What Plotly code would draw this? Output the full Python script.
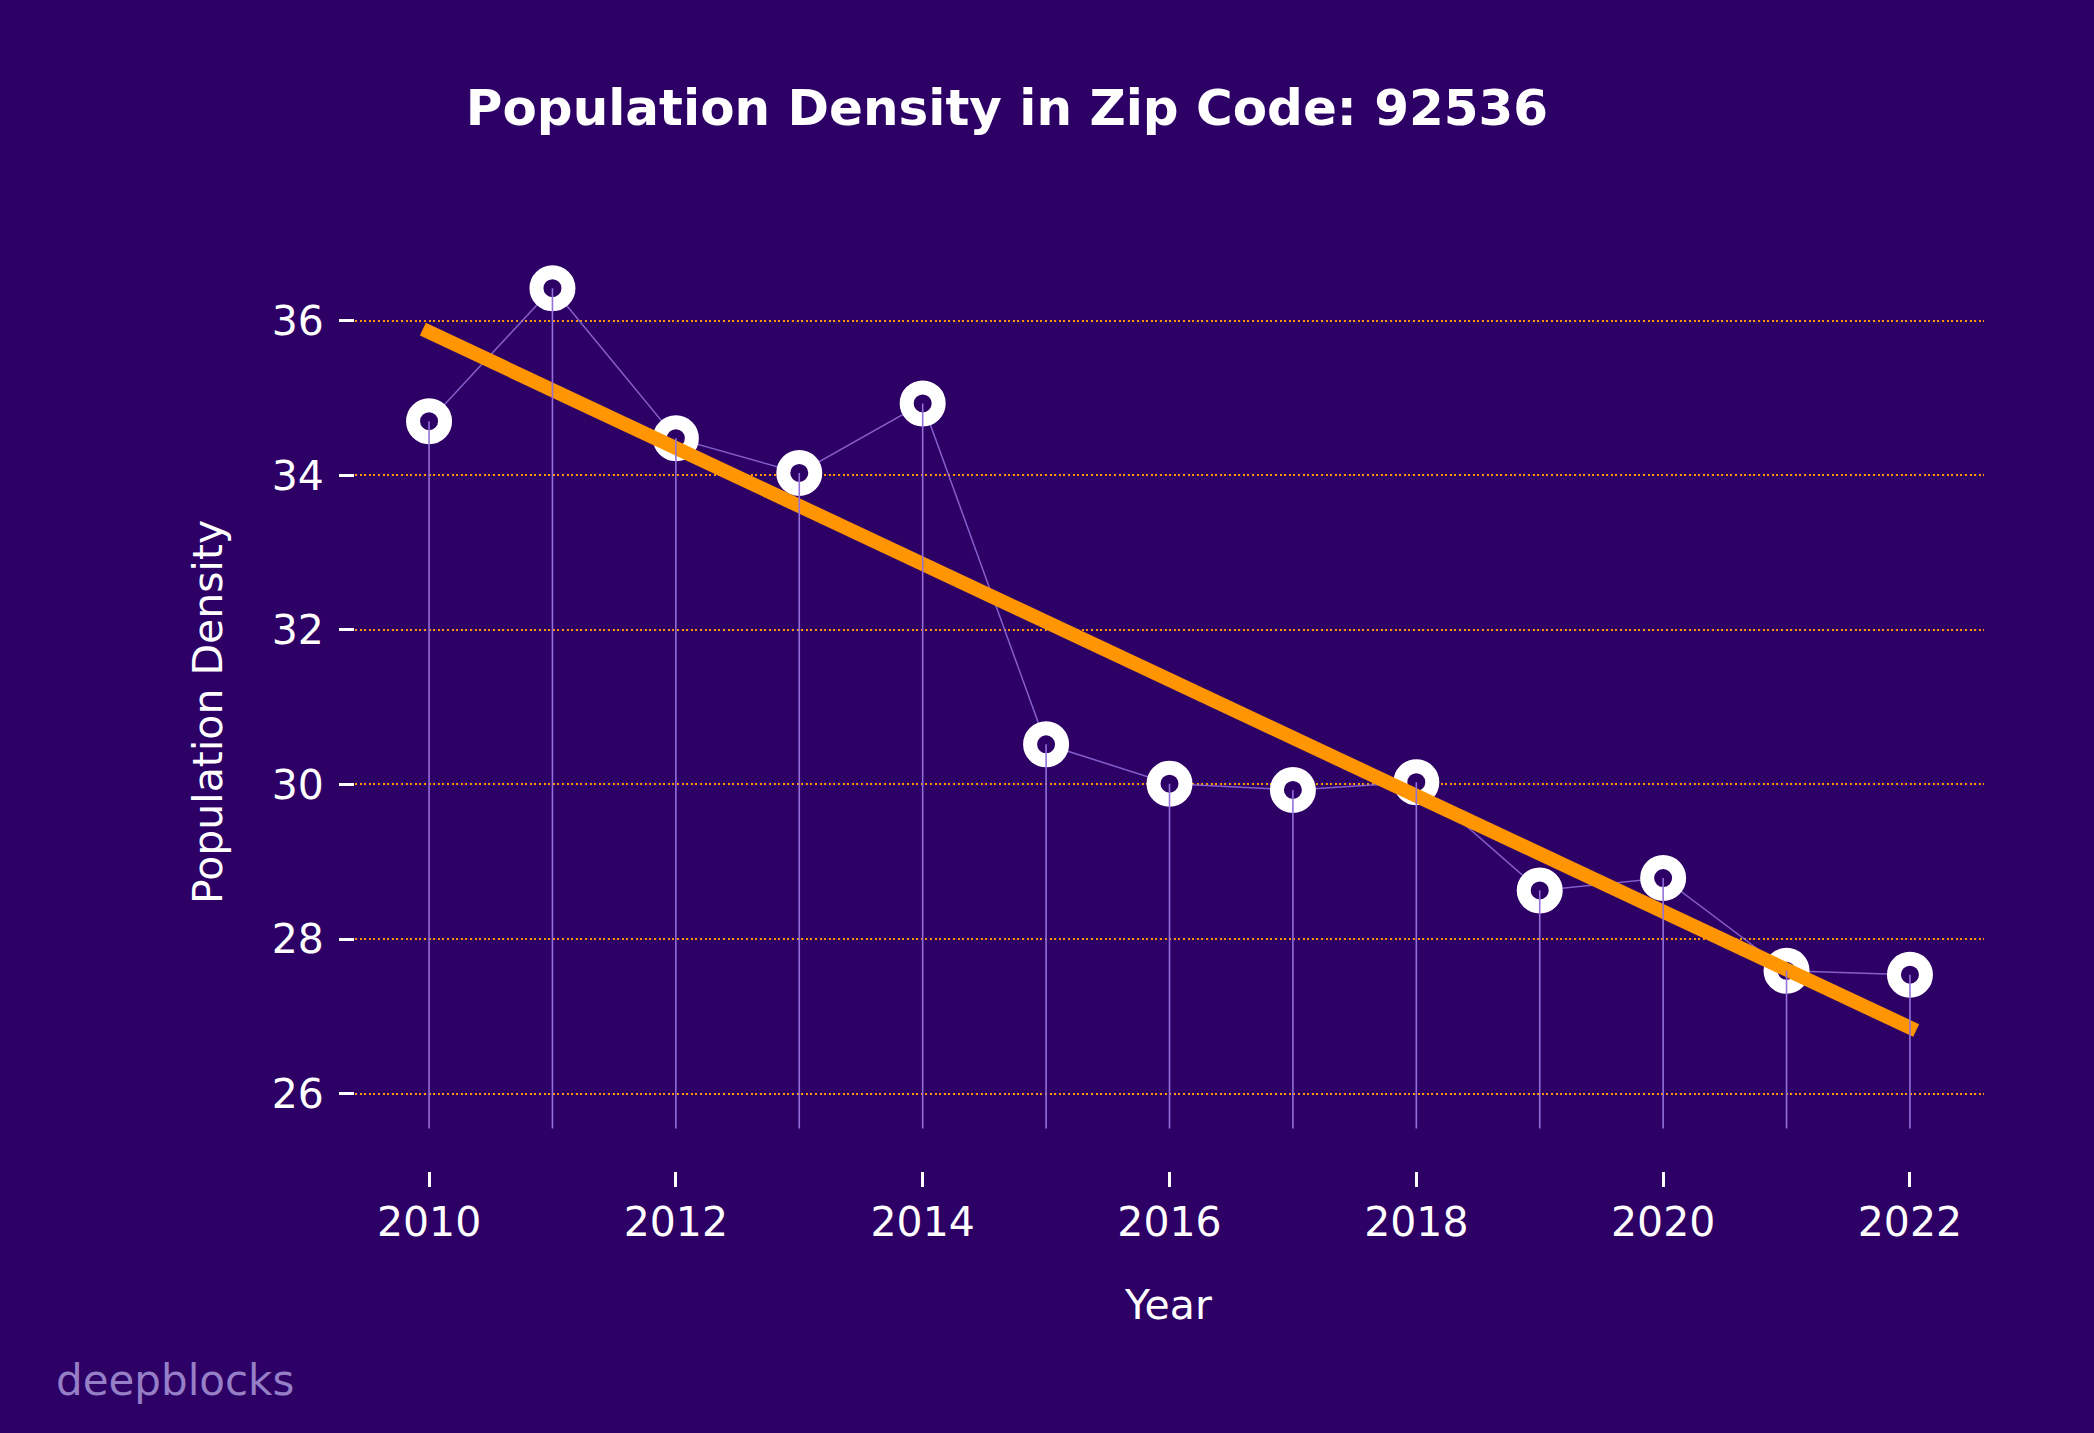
import numpy as np
import plotly.graph_objects as go

years = [2010, 2011, 2012, 2013, 2014, 2015, 2016, 2017, 2018, 2019, 2020, 2021, 2022]
density = [34.70, 36.42, 34.48, 34.03, 34.93, 30.52, 30.01, 29.93, 30.03, 28.63, 28.79, 27.59, 27.54]
stem_base = 25.55
y_ticks = [26, 28, 30, 32, 34, 36]
x_ticks = [2010, 2012, 2014, 2016, 2018, 2020, 2022]

BG = "#2d0066"
ORANGE = "#ff9500"
LAV = "#9370db"
FONT = "DejaVu Sans"

# linear trend (projecting line caps emulated by extending half a line width)
slope, intercept = np.polyfit(years, density, 1)
cap = 0.05
trend_x = [years[0] - cap, years[-1] + cap]
trend_y = [slope * x + intercept for x in trend_x]

# stems
sx, sy = [], []
for x, y in zip(years, density):
    sx += [x, x, None]
    sy += [y, stem_base, None]

fig = go.Figure()
fig.add_trace(go.Scatter(x=years, y=density, mode="lines",
                         line=dict(color="rgba(147,112,219,0.85)", width=1.5),
                         hoverinfo="skip", showlegend=False))
fig.add_trace(go.Scatter(x=years, y=density, mode="markers",
                         marker=dict(size=32, color=BG, line=dict(color="white", width=14)),
                         showlegend=False))
fig.add_trace(go.Scatter(x=trend_x, y=trend_y, mode="lines",
                         line=dict(color=ORANGE, width=14),
                         hoverinfo="skip", showlegend=False))
fig.add_trace(go.Scatter(x=sx, y=sy, mode="lines",
                         line=dict(color=LAV, width=1.6),
                         hoverinfo="skip", showlegend=False))

fig.update_layout(
    width=2094, height=1433,
    paper_bgcolor=BG, plot_bgcolor=BG,
    margin=dict(l=355, r=110, t=248, b=262),
    font=dict(family=FONT, color="white", size=42),
    title=dict(text="<b>Population Density in Zip Code: 92536</b>",
               x=1007 / 2094, xanchor="center", xref="container",
               y=1 - 107 / 1433, yanchor="middle", yref="container",
               font=dict(family=FONT, size=50, color="white")),
    xaxis=dict(range=[2009.4, 2022.6], tickvals=x_ticks, showgrid=False,
               zeroline=False, showline=False, ticks="outside", ticklen=15,
               tickwidth=2.5, tickcolor="white", ticklabelstandoff=0,
               tickfont=dict(size=41, color="white")),
    yaxis=dict(range=[25.0, 36.94], tickvals=y_ticks, showgrid=True,
               gridcolor=ORANGE, gridwidth=1.5, griddash="2px,2.6px",
               zeroline=False, showline=False, ticks="outside", ticklen=15,
               tickwidth=2.5, tickcolor="white", ticklabelstandoff=7,
               tickfont=dict(size=41, color="white")),
    annotations=[
        dict(text="Year", xref="paper", yref="paper",
             x=(1168 - 355) / (2094 - 355 - 110), y=-(1305 - 1171) / (1171 - 248),
             xanchor="center", yanchor="middle", showarrow=False,
             font=dict(family=FONT, size=41, color="white")),
        dict(text="Population Density", xref="paper", yref="paper",
             x=(208 - 355) / (2094 - 355 - 110), y=(1171 - 712) / (1171 - 248),
             xanchor="center", yanchor="middle", textangle=-90, showarrow=False,
             font=dict(family=FONT, size=41, color="white")),
        dict(text="deepblocks", xref="paper", yref="paper",
             x=(54 - 355) / (2094 - 355 - 110), y=-(1380 - 1171) / (1171 - 248),
             xanchor="left", yanchor="middle", showarrow=False,
             font=dict(family=FONT, size=42, color="#957fc6")),
    ],
)

fig.write_html("out.html", config={"displayModeBar": False},
               post_script="document.body.style.margin='0';document.body.style.background='#2d0066';")
